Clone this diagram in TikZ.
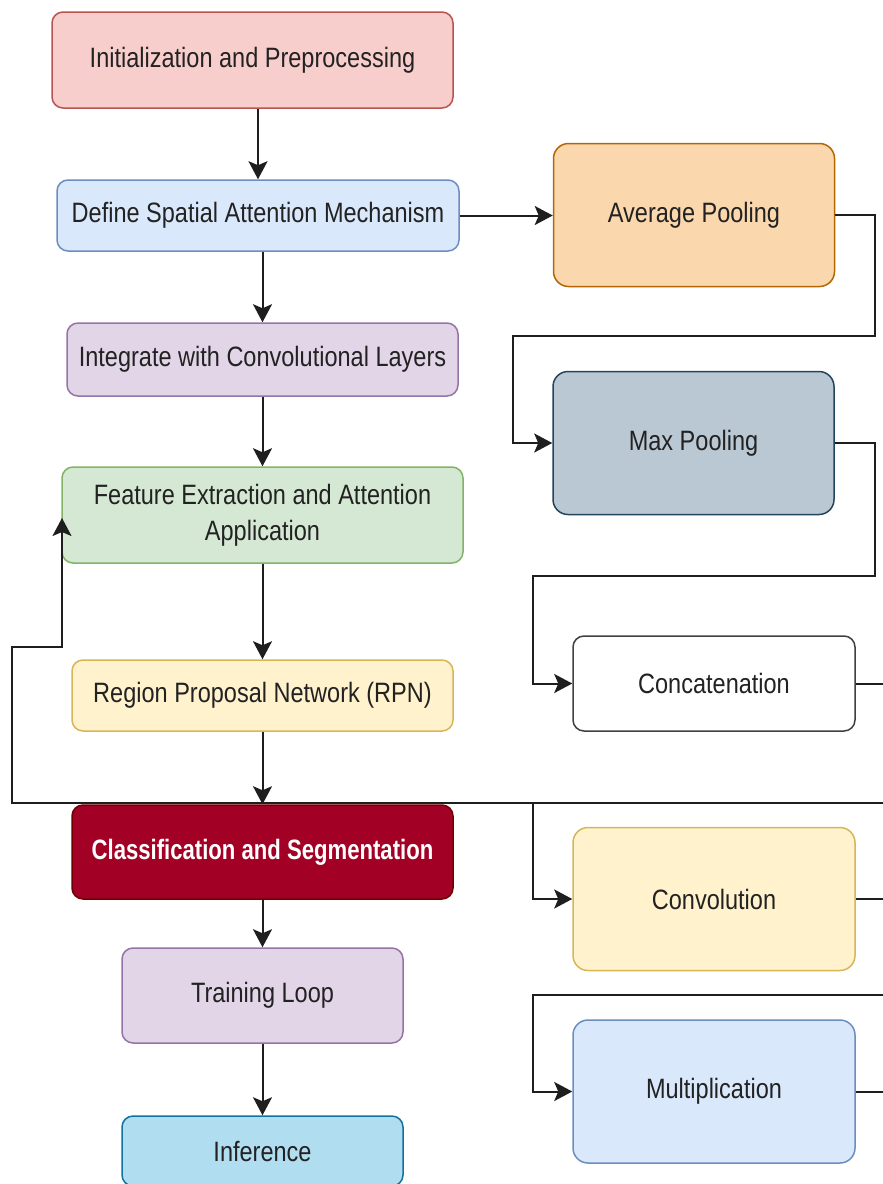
\documentclass[tikz,border=0pt]{standalone}
\usepackage{fontspec}
\setmainfont{Liberation Sans}[FakeStretch=0.84]
\newfontfamily\clsfont{Liberation Sans}[FakeStretch=0.79]
\usetikzlibrary{arrows.meta}
\definecolor{txt}{HTML}{222222}
\definecolor{lnk}{HTML}{1E1E1E}
\definecolor{redfill}{HTML}{F8CECC}  \definecolor{redline}{HTML}{B85450}
\definecolor{bluefill}{HTML}{DAE8FC} \definecolor{blueline}{HTML}{6C8EBF}
\definecolor{purpfill}{HTML}{E1D5E7} \definecolor{purpline}{HTML}{9673A6}
\definecolor{grnfill}{HTML}{D5E8D4}  \definecolor{grnline}{HTML}{82B366}
\definecolor{yelfill}{HTML}{FFF2CC}  \definecolor{yelline}{HTML}{D6B656}
\definecolor{clsfill}{HTML}{A20025}  \definecolor{clsline}{HTML}{6F0000}
\definecolor{cyanfill}{HTML}{B1DDF0} \definecolor{cyanline}{HTML}{10739E}
\definecolor{orgfill}{HTML}{FAD7AC}  \definecolor{orgline}{HTML}{B46504}
\definecolor{slatefill}{HTML}{BAC8D3} \definecolor{slateline}{HTML}{23445D}
\begin{document}
\begin{tikzpicture}[x=1pt,y=-1pt,
  box/.style={draw,rounded corners=11pt,line width=1.5pt,inner sep=0pt,align=center,
    text=txt,font=\fontsize{28}{36}\selectfont},
  bigbox/.style={box,rounded corners=15pt,minimum width=281pt,minimum height=143pt},
  link/.style={line width=2pt,draw=lnk,-{Stealth[length=18pt,width=19pt,inset=4pt]}},
  wire/.style={line width=2pt,draw=lnk}]
  \useasboundingbox (0,0) rectangle (883,1184);
  \clip (0,0) rectangle (883,1184);
  % main column
  \node[box,fill=redfill,draw=redline,minimum width=401pt,minimum height=96pt] (init) at (252.5,60) {Initialization and Preprocessing};
  \node[box,fill=bluefill,draw=blueline,minimum width=402pt,minimum height=71pt] (define) at (258,215.5) {Define Spatial Attention Mechanism};
  \node[box,fill=purpfill,draw=purpline,minimum width=391pt,minimum height=73pt] (integ) at (262.5,359.5) {Integrate with Convolutional Layers};
  \node[box,fill=grnfill,draw=grnline,minimum width=401pt,minimum height=96pt] (feat) at (262.5,515) {Feature Extraction and Attention\\Application};
  \node[box,fill=yelfill,draw=yelline,minimum width=381pt,minimum height=71pt] (rpn) at (262.5,695.5) {Region Proposal Network (RPN)};
  \node[box,fill=clsfill,draw=clsline,text=white,font=\fontsize{28}{36}\clsfont\bfseries,minimum width=381pt,minimum height=94pt] (cls) at (262.5,852) {Classification and Segmentation};
  \node[box,fill=purpfill,draw=purpline,minimum width=281pt,minimum height=95pt] (train) at (262.5,995.5) {Training Loop};
  \node[box,fill=cyanfill,draw=cyanline,minimum width=281pt,minimum height=70pt] (infer) at (262.5,1151) {Inference};
  % attention branch
  \node[bigbox,fill=orgfill,draw=orgline] (avg) at (694,215) {Average Pooling};
  \node[bigbox,fill=slatefill,draw=slateline] (max) at (693.5,443) {Max Pooling};
  \node[box,fill=white,draw=lnk!85,minimum width=282pt,minimum height=95pt] (concat) at (714,683.5) {Concatenation};
  \node[bigbox,fill=yelfill,draw=yelline,minimum width=282pt] (conv) at (714,899) {Convolution};
  \node[bigbox,fill=bluefill,draw=blueline,minimum width=282pt] (mult) at (714,1091.5) {Multiplication};
  \coordinate (edge) at (895,0);
  \coordinate (r1) at (875,336); \coordinate (l1) at (513,336);
  \coordinate (r2) at (875,576); \coordinate (l2) at (533,576);
  \coordinate (busR) at (895,803); \coordinate (busL) at (12,803);
  \coordinate (busU) at (12,647); \coordinate (featIn) at (62,518);
  \coordinate (tap) at (533,803);
  \coordinate (multR) at (895,995); \coordinate (multL) at (533,995);
  \draw[link] (init.south -| define) -- (define.north);
  \draw[link] (define.south -| integ) -- (integ.north);
  \draw[link] (integ) -- (feat);
  \draw[link] (feat) -- (rpn);
  \draw[link] (rpn) -- (cls);
  \draw[link] (cls) -- (train);
  \draw[link] (train) -- (infer);
  \draw[link] (define.east) -- (define.east -| avg.west);
  \draw[link] (avg.east) -| (r1) -- (l1) |- (max.west);
  \draw[link] (max.east) -| (r2) -- (l2) |- (concat.west);
  \draw[wire] (concat.east) -- (concat.east -| edge);
  \draw[link] (busR) -- (busL) -- (busU) -| (featIn);
  \draw[link] (tap) |- (conv.west);
  \draw[wire] (conv.east) -- (conv.east -| edge);
  \draw[link] (multR) -- (multL) |- (mult.west);
  \draw[wire] (mult.east) -- (mult.east -| edge);
\end{tikzpicture}
\end{document}
